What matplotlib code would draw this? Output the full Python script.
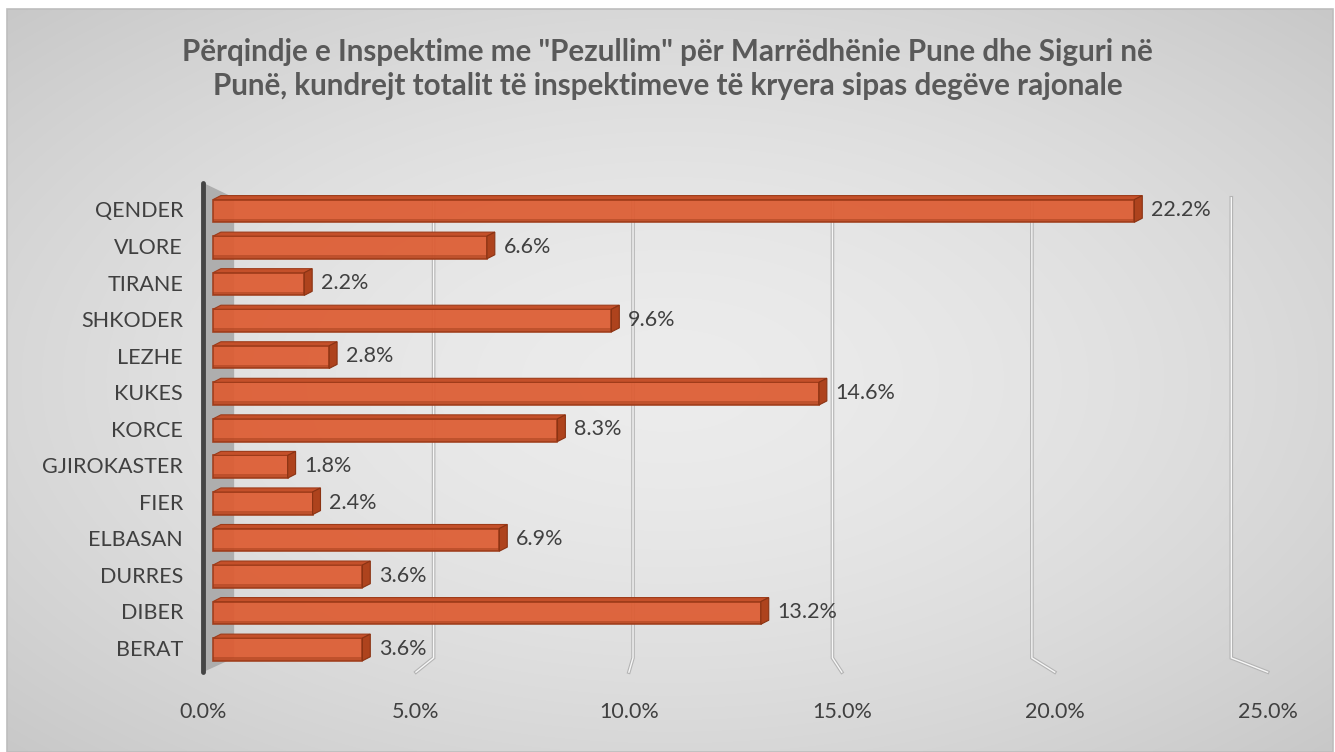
import numpy as np
import matplotlib
matplotlib.use('Agg')
from matplotlib import pyplot as plt
from matplotlib.patches import Rectangle, Polygon

plt.rcParams['font.family'] = ['Lato', 'DejaVu Sans']

# Data
regions = ['QENDER', 'VLORE', 'TIRANE', 'SHKODER', 'LEZHE', 'KUKES', 'KORCE',
           'GJIROKASTER', 'FIER', 'ELBASAN', 'DURRES', 'DIBER', 'BERAT']
values = [22.2, 6.6, 2.2, 9.6, 2.8, 14.6, 8.3, 1.8, 2.4, 6.9, 3.6, 13.2, 3.6]
ticks = [0, 5, 10, 15, 20, 25]
title = ('Përqindje e Inspektime me "Pezullim" për Marrëdhënie Pune dhe Siguri në\n'
         'Punë, kundrejt totalit të inspektimeve të kryera sipas degëve rajonale')

W, H = 1335, 752
fig = plt.figure(figsize=(W / 100, H / 100), dpi=100)

# background: soft radial gradient inside a thin frame
bg = fig.add_axes([0, 0, 1, 1], zorder=-5)
bg.set_xlim(0, W)
bg.set_ylim(H, 0)
bg.axis('off')
gx, gy = np.meshgrid(np.linspace(-1, 1, 400), np.linspace(-1, 1, 240))
r = np.clip(np.sqrt(gx ** 2 + gy ** 2) / 1.414, 0, 1)
shade = 0.925 - 0.14 * r ** 1.6
img = np.dstack([shade, shade, shade])
bg.imshow(img, extent=[7, W - 2, H, 9], aspect='auto', interpolation='bilinear')
bg.add_patch(Rectangle((7, 9), W - 9, H - 9, fill=False, ec='#bdbdbd', lw=1.2))

# main axes (x in %, y in category index, BERAT = 0)
ax = fig.add_axes([190 / W, (H - 690) / H, 1110 / W, 520 / H])
ax.patch.set_alpha(0)
ax.set_xlim(-0.554, 26.19)
ax.set_ylim(-1.149, 13.08)
for s in ax.spines.values():
    s.set_visible(False)

n = len(regions)
ypos = np.arange(n)[::-1]

# perspective helpers (data units)
def front_x(v):
    return -0.24 + 1.026 * v

def back_x(v):
    return 0.51 + 0.961 * v

y_back_top, y_back_floor, y_front_floor = 12.32, -0.27, -0.66

# left wall
wall = Polygon([(front_x(0), 12.73), (back_x(0), y_back_top),
                (back_x(0), y_back_floor), (front_x(0), y_front_floor)],
               closed=True, fc='#a9a9a9', ec='none', alpha=0.9, zorder=1)
ax.add_patch(wall)
ax.plot([front_x(0), front_x(0)], [y_front_floor, 12.73], color='#454545', lw=3.5,
        solid_capstyle='round', zorder=2)

# gridlines on back wall with floor bend
for t in ticks[1:]:
    xs = [back_x(t), back_x(t), front_x(t)]
    ys = [y_back_top, y_back_floor, y_front_floor]
    ax.plot(xs, ys, color='#b4b4b4', lw=2.6, zorder=1.5, solid_joinstyle='miter')
    ax.plot(xs, ys, color='#f7f7f7', lw=1.0, zorder=1.6, solid_joinstyle='miter')

# 3D-ish bars
h = 0.62
ddx, ddy = 0.19, 0.11
face = '#dd5c32'
for y, v in zip(ypos, values):
    y0 = y - 0.35
    ax.add_patch(Rectangle((0, y0), v, h, fc=face, ec='#9e3b19', lw=1.2,
                           alpha=0.93, zorder=3))
    ax.add_patch(Rectangle((0, y0), v, h * 0.16, fc='#9c3a18', ec='none',
                           alpha=0.45, zorder=3.1))
    ax.add_patch(Polygon([(0, y0 + h), (v, y0 + h), (v + ddx, y0 + h + ddy),
                          (ddx, y0 + h + ddy)], closed=True, fc='#c4502a',
                         ec='#9e3b19', lw=0.8, zorder=3.2))
    ax.add_patch(Polygon([(v, y0), (v + ddx, y0 + ddy), (v + ddx, y0 + h + ddy),
                          (v, y0 + h)], closed=True, fc='#ae431d',
                         ec='#8a3313', lw=0.8, zorder=3.2))
    ax.text(v + 0.40, y - 0.02, f'{v:.1f}%', ha='left', va='center',
            fontsize=15.5, color='#404040', zorder=4)

ax.set_yticks(ypos)
ax.set_yticklabels(regions, fontsize=15.5, color='#404040')
ax.set_xticks([front_x(t) for t in ticks])
ax.set_xticklabels([f'{t:.1f}%' for t in ticks], fontsize=15.5, color='#404040')
ax.tick_params(axis='both', length=0)
ax.tick_params(axis='y', pad=5)
ax.tick_params(axis='x', pad=9)

fig.text(0.5, 1 - 69 / H, title, ha='center', va='center', fontsize=21.3,
         fontweight='bold', color='#595959', linespacing=1.3)

fig.savefig('out.png', dpi=100)
